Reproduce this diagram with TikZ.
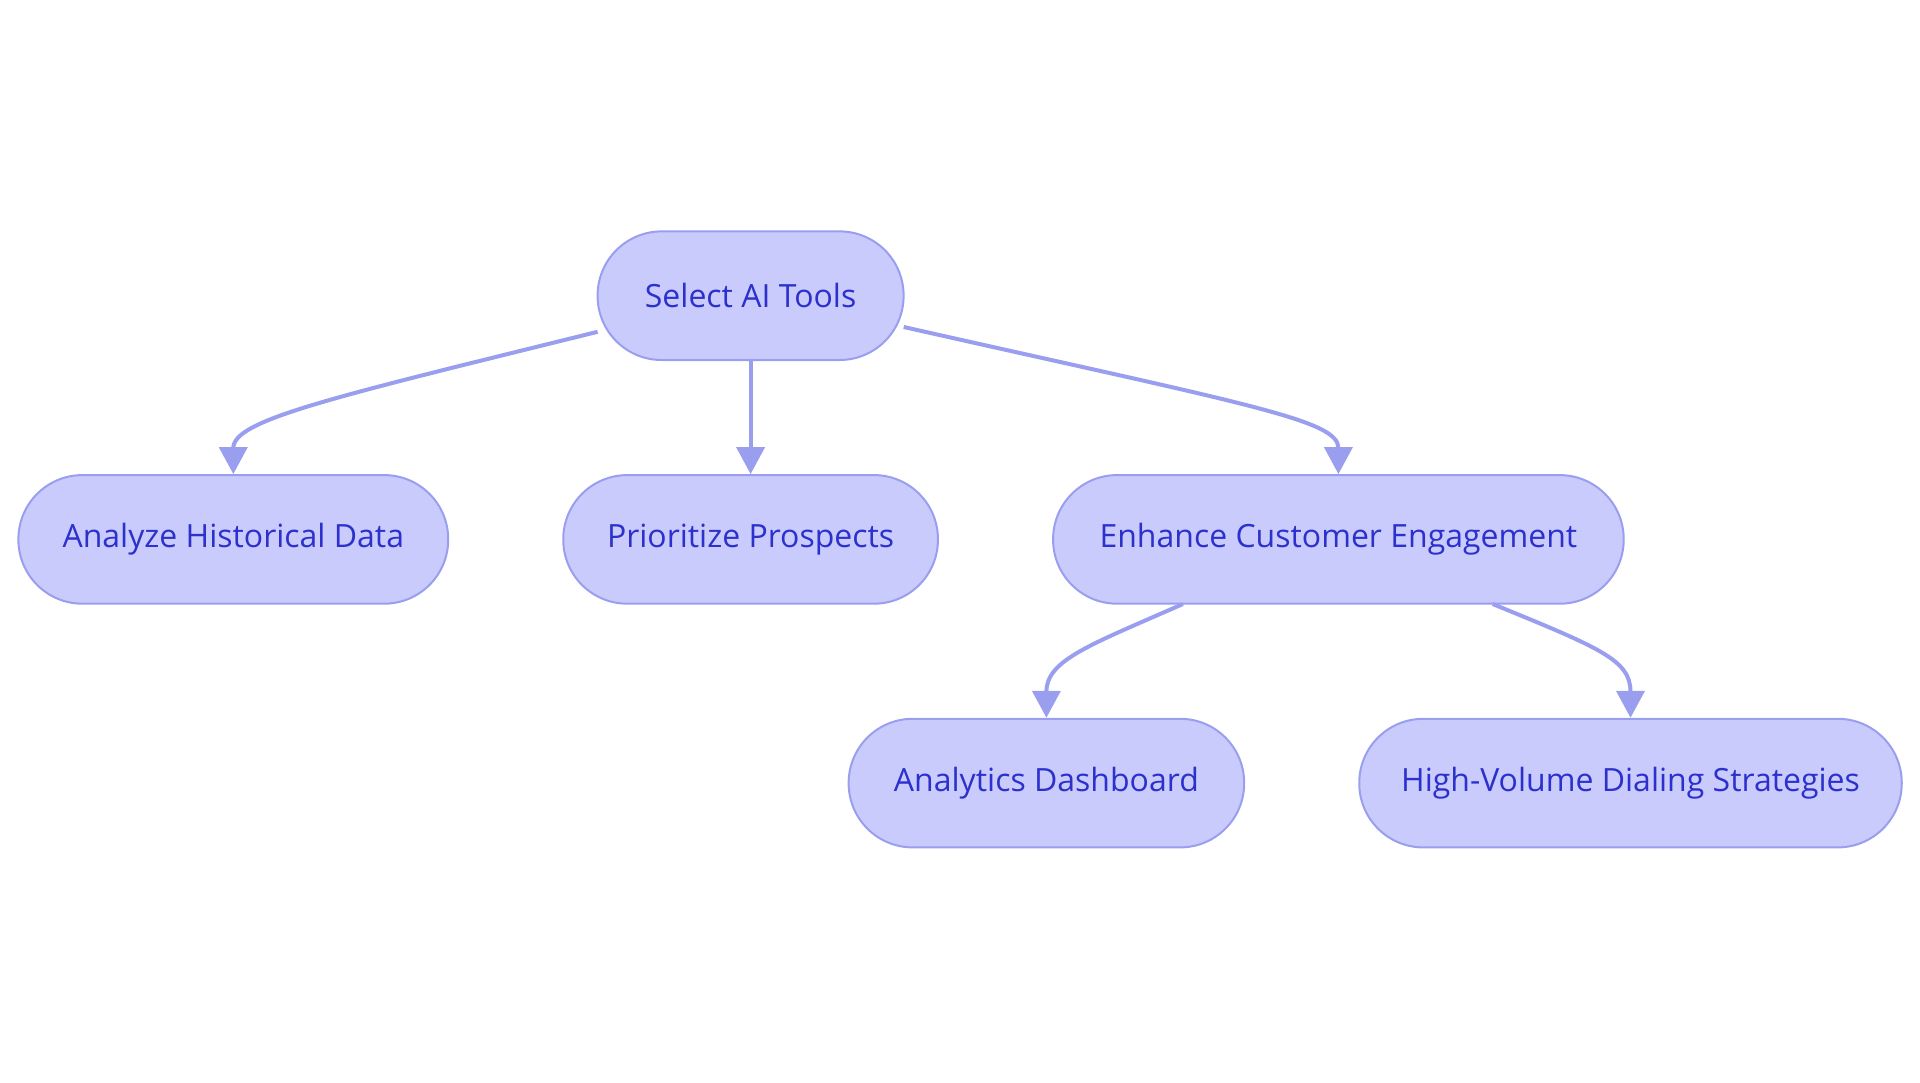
\documentclass[tikz,border=0pt]{standalone}
\usepackage{fontspec}
\setmainfont{Open Sans}
\usetikzlibrary{arrows.meta}
\definecolor{nfill}{HTML}{C9CBFC}
\definecolor{nline}{HTML}{9A9EEF}
\definecolor{ntext}{HTML}{2C30CC}
\tikzset{
  stadium/.style={draw=nline, line width=2pt, fill=nfill, rounded corners=64pt,
    minimum height=128.6pt, inner sep=0pt, text=ntext,
    font=\fontsize{32}{38}\selectfont},
  conn/.style={draw=nline, line width=4pt, -{Triangle[length=27pt,width=28pt]}}
}
\begin{document}
\begin{tikzpicture}[x=1pt,y=-1pt]
\useasboundingbox (0,0) rectangle (1920,1083);
\node[stadium, minimum width=306pt] (sel) at (750.6,295.7) {Select AI Tools};
\node[stadium, minimum width=429.8pt] (ana) at (233.3,539.4) {Analyze Historical Data};
\node[stadium, minimum width=374.7pt] (pri) at (750.6,539.4) {Prioritize Prospects};
\node[stadium, minimum width=570.6pt] (enh) at (1338.4,539.4) {Enhance Customer Engagement};
\node[stadium, minimum width=395.5pt] (dash) at (1046.4,783.1) {Analytics Dashboard};
\node[stadium, minimum width=542.5pt] (dial) at (1630.5,783.1) {High-Volume Dialing Strategies};
\coordinate (s1) at (597.6,331.8);
\coordinate (s2) at (903.7,327);
\coordinate (e1) at (1182.9,604);
\coordinate (e2) at (1492.7,604);
\draw[conn] (s1) .. controls (330,398) and (233.3,420) .. (ana.north);
\draw[conn] (sel.south) -- (pri.north);
\draw[conn] (s2) .. controls (1250,405) and (1338.4,420) .. (enh.north);
\draw[conn] (e1) .. controls (1090,645) and (1046.4,660) .. (dash.north);
\draw[conn] (e2) .. controls (1600,648) and (1630.5,660) .. (dial.north);
\end{tikzpicture}
\end{document}
